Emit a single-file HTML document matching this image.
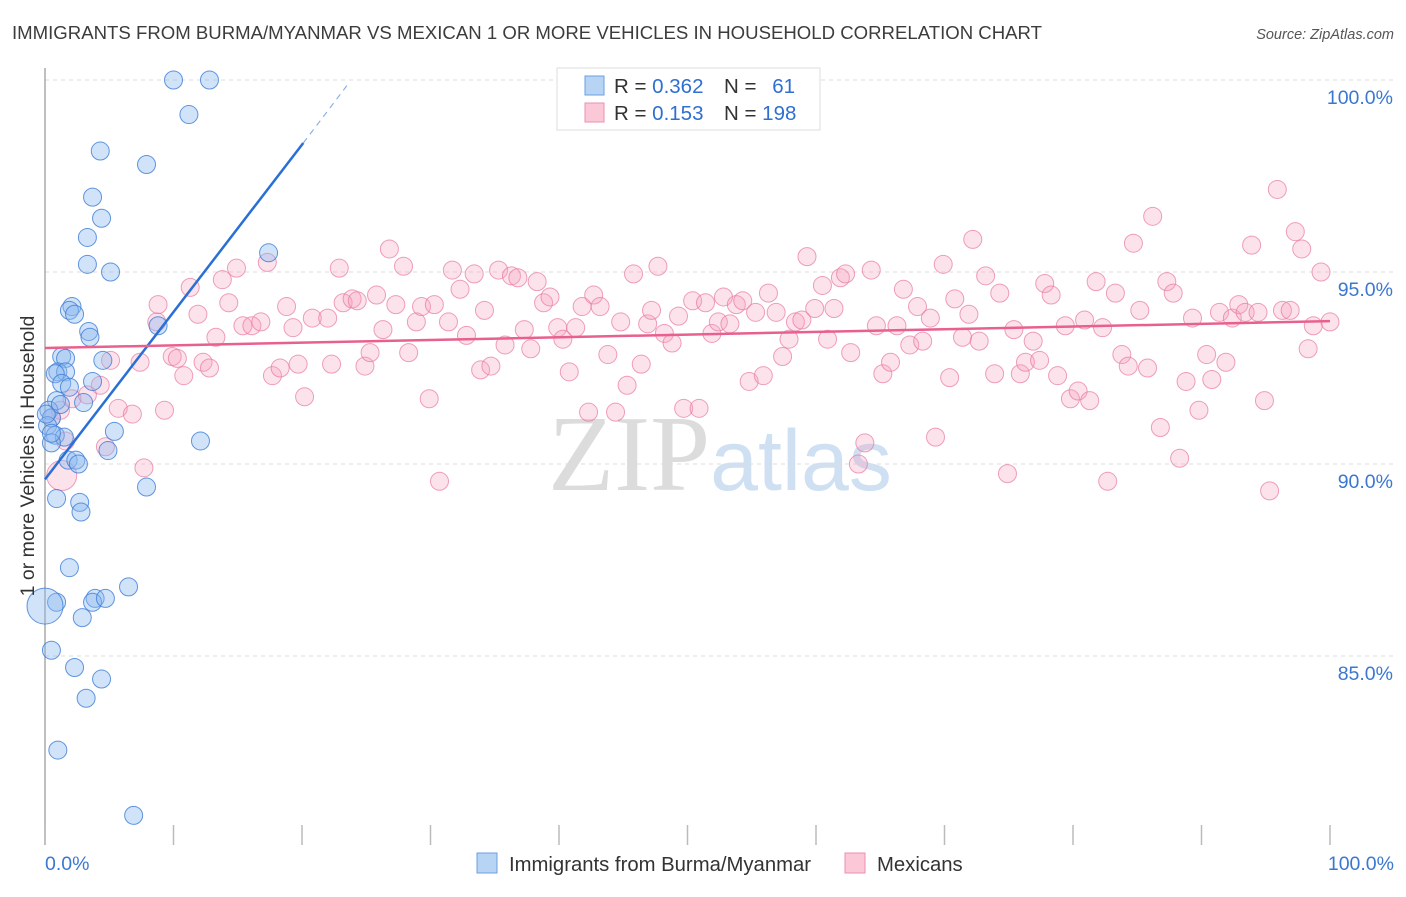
<!DOCTYPE html>
<html><head><meta charset="utf-8">
<style>
body{margin:0;background:#fff;font-family:"Liberation Sans",sans-serif;}
svg text{font-family:"Liberation Sans",sans-serif;}
</style></head>
<body>
<svg id="chart" width="1406" height="892" viewBox="0 0 1406 892" xmlns="http://www.w3.org/2000/svg">
<text x="12" y="39" font-size="18.6" fill="#3c3c3c">IMMIGRANTS FROM BURMA/MYANMAR VS MEXICAN 1 OR MORE VEHICLES IN HOUSEHOLD CORRELATION CHART</text>
<text x="1394" y="39" font-size="14.5" fill="#555" text-anchor="end" font-style="italic">Source: ZipAtlas.com</text>
<text x="720" y="490" font-size="108" text-anchor="middle"><tspan font-family="Liberation Serif" fill="#dcdcdc">ZIP</tspan><tspan fill="#cfe0f3" font-size="86">atlas</tspan></text>
<g id="grid"></g>
<g id="axes"></g>
<g id="pinkpts"></g>
<g id="bluepts"></g>
<g id="trends"></g>
<text transform="translate(34,456) rotate(-90)" font-size="19.5" fill="#333" text-anchor="middle">1 or more Vehicles in Household</text>
<g>
<rect x="557" y="68" width="263" height="62" fill="#fff" stroke="#ddd"/>
<rect x="585" y="76" width="19" height="19" fill="#b8d4f5" stroke="#6a9fe0"/>
<rect x="585" y="103" width="19" height="19" fill="#fbc8d8" stroke="#ec8fb0"/>
<text x="614" y="93" font-size="20.5" fill="#333">R = <tspan fill="#2f6fd0">0.362</tspan></text>
<text x="724" y="93" font-size="20.5" fill="#333">N = </text><text x="795" y="93" font-size="20.5" fill="#2f6fd0" text-anchor="end">61</text>
<text x="614" y="120" font-size="20.5" fill="#333">R = <tspan fill="#2f6fd0"> 0.153</tspan></text>
<text x="724" y="120" font-size="20.5" fill="#333">N = <tspan fill="#2f6fd0">198</tspan></text>
</g>
<g>
<rect x="477" y="853" width="20" height="20" fill="#b8d4f5" stroke="#6a9fe0"/>
<text x="509" y="871" font-size="20.3" fill="#333">Immigrants from Burma/Myanmar</text></g>
<g>
<rect x="845" y="853" width="20" height="20" fill="#fbc8d8" stroke="#ec8fb0"/>
<text x="877" y="871" font-size="20.3" fill="#333">Mexicans</text></g>
</svg>
<script>
const yTicks=[85,90,95,100];
const yTickLabels=["85.0%","90.0%","95.0%","100.0%"];
const xTickLabels=["0.0%","100.0%"];
const blueX=[10.0,12.8,11.2,4.3,7.9,3.7,4.4,3.3,3.3,5.1,17.4,2.1,1.9,2.3,3.4,3.5,8.8,1.3,1.6,4.5,1.0,1.6,0.8,1.3,1.9,3.7,0.9,3.0,0.3,0.5,0.2,0.8,1.5,0.5,5.4,12.1,4.9,1.8,2.4,2.6,0.9,2.7,2.8,7.9,1.9,0.9,0,3.9,3.7,4.7,6.5,2.9,0.5,2.3,4.4,3.2,1.0,6.9,0.1,1.2,0.5];
const blueY=[100.0,100.0,99.1,98.15,97.8,96.95,96.4,95.9,95.2,95.0,95.5,94.1,94.0,93.9,93.45,93.3,93.6,92.8,92.75,92.7,92.4,92.4,92.35,92.1,92.0,92.15,91.65,91.6,91.4,91.2,91.0,90.75,90.7,90.55,90.85,90.6,90.35,90.1,90.1,90.0,89.1,89.0,88.75,89.4,87.3,86.4,86.3,86.5,86.4,86.5,86.8,86.0,85.15,84.7,84.4,83.9,82.55,80.85,91.3,91.55,90.8];
const blueBig=[46];
const pinkX=[0.5,1.2,1.6,1.3,2.1,3.3,4.3,4.7,5.1,5.7,6.8,7.7,7.4,8.7,8.8,9.3,9.9,10.3,10.8,11.3,11.9,12.3,12.8,13.3,13.8,14.3,14.9,15.4,16.1,16.8,17.3,17.7,18.3,18.8,19.3,19.7,20.2,20.8,22.0,22.3,22.9,23.2,23.9,24.3,24.9,25.3,25.8,26.3,26.8,27.3,27.9,28.3,28.9,29.3,29.9,30.3,30.7,31.4,31.7,32.3,32.8,33.4,33.9,34.2,34.7,35.3,35.8,36.3,36.8,37.3,37.8,38.3,38.8,39.3,39.9,40.3,40.8,41.3,41.8,42.3,42.7,43.2,43.8,44.4,44.8,45.3,45.8,46.4,46.9,47.2,47.7,48.2,48.8,49.3,49.7,50.4,50.9,51.4,51.9,52.4,52.8,53.3,53.8,54.3,54.8,55.3,55.9,56.3,56.9,57.4,57.9,58.4,58.9,59.3,59.9,60.5,60.9,61.4,61.9,62.3,62.7,63.3,63.8,64.3,64.7,65.2,65.8,66.3,66.8,67.3,67.9,68.3,68.9,69.3,69.9,70.4,70.8,71.4,71.9,72.2,72.7,73.2,73.9,74.3,74.9,75.4,75.9,76.3,76.9,77.4,77.8,78.3,78.8,79.4,79.8,80.4,80.9,81.3,81.8,82.3,82.7,83.3,83.8,84.3,84.7,85.2,85.8,86.2,86.8,87.3,87.8,88.3,88.8,89.3,89.8,90.4,90.8,91.4,91.9,92.4,92.9,93.4,93.9,94.4,94.9,95.3,95.9,96.3,96.9,97.3,97.8,98.3,98.7,99.3,100];
const pinkY=[91.2,91.4,90.6,89.7,91.7,91.8,92.05,90.45,92.7,91.45,91.3,89.9,92.65,93.7,94.15,91.4,92.8,92.75,92.3,94.6,93.9,92.65,92.5,93.3,94.8,94.2,95.1,93.6,93.6,93.7,95.25,92.3,92.5,94.1,93.55,92.6,91.75,93.8,93.8,92.6,95.1,94.2,94.3,94.25,92.55,92.9,94.4,93.5,95.6,94.15,95.15,92.9,93.7,94.1,91.7,94.15,89.55,93.7,95.05,94.55,93.35,94.95,92.45,94.0,92.55,95.05,93.1,94.9,94.85,93.5,93.0,94.75,94.2,94.35,93.55,93.25,92.4,93.55,94.1,91.35,94.4,94.1,92.85,91.35,93.7,92.05,94.95,92.6,93.65,94.0,95.15,93.4,93.15,93.85,91.45,94.25,91.45,94.2,93.4,93.7,94.35,93.65,94.15,94.25,92.15,93.95,92.3,94.45,93.95,92.8,93.25,93.7,93.75,95.4,94.05,94.65,93.25,94.05,94.85,94.95,92.9,90.0,90.55,95.05,93.6,92.35,92.65,93.6,94.55,93.1,94.1,93.2,93.8,90.7,95.2,92.25,94.3,93.3,93.9,95.85,93.2,94.9,92.35,94.45,89.75,93.5,92.35,92.65,93.2,92.7,94.7,94.4,92.3,93.6,91.7,91.9,93.75,91.65,94.75,93.55,89.55,94.45,92.85,92.55,95.75,94.0,92.5,96.45,90.95,94.75,94.45,90.15,92.15,93.8,91.4,92.85,92.2,93.95,92.65,93.8,94.15,93.95,95.7,93.95,91.65,89.3,97.15,94.0,94.0,96.05,95.6,93.0,93.6,95.0,93.7];
const pinkBig=[3];
const blueTrend=[[0,89.6],[20.1,98.36]];
const blueTrendDash=[[20.1,98.36],[23.6,99.9]];
const pinkTrend=[[0,93.02],[100,93.72]];

const NS="http://www.w3.org/2000/svg";
const X0=45,X1=1330,YTOP=80,PX5=192;
const sx=v=>X0+v*(X1-X0)/100;
const sy=v=>YTOP+(100-v)*PX5/5;
function mk(tag,attrs,parent){const e=document.createElementNS(NS,tag);for(const k in attrs)e.setAttribute(k,attrs[k]);parent.appendChild(e);return e;}
const grid=document.getElementById('grid'),axes=document.getElementById('axes');
yTicks.forEach((t,i)=>{
  const l=mk('line',{x1:X0,x2:1394,y1:sy(t),y2:sy(t),stroke:'#ddd','stroke-dasharray':'4,4'},grid);
  
  
  const tx=mk('text',{x:1393,y:sy(t)+24,'font-size':19.5,fill:'#3a78d0','text-anchor':'end'},axes);
  tx.textContent=yTickLabels[i];
  
  
});
const ya=mk('line',{x1:X0,x2:X0,y1:68,y2:845,stroke:'#aaa','stroke-width':1.5},axes);


for(let i=0;i<=10;i++){
  const tk=mk('line',{x1:sx(i*10),x2:sx(i*10),y1:825,y2:845,stroke:'#bbb','stroke-width':1.5},axes);
  
  
}
const xl0=mk('text',{x:45,y:870,'font-size':19.5,fill:'#3a78d0'},axes);xl0.textContent=xTickLabels[0];


const xl1=mk('text',{x:1394,y:870,'font-size':19.5,fill:'#3a78d0','text-anchor':'end'},axes);xl1.textContent=xTickLabels[1];



const pg=document.getElementById('pinkpts');
pinkX.forEach((x,i)=>{
  const c=mk('circle',{cx:sx(x),cy:sy(pinkY[i]),r:pinkBig.includes(i)?15:9,fill:'rgba(246,160,190,0.3)',stroke:'rgba(232,120,160,0.7)','stroke-width':1},pg);
  
  
});
const bg=document.getElementById('bluepts');
blueX.forEach((x,i)=>{
  const c=mk('circle',{cx:sx(x),cy:sy(blueY[i]),r:blueBig.includes(i)?18:9,fill:'rgba(140,185,240,0.4)',stroke:'rgba(60,125,215,0.8)','stroke-width':1},bg);
  
  
});
const tg=document.getElementById('trends');
const b=mk('line',{x1:sx(blueTrend[0][0]),y1:sy(blueTrend[0][1]),x2:sx(blueTrend[1][0]),y2:sy(blueTrend[1][1]),stroke:'#2a6fd6','stroke-width':2.5},tg);


const bd=mk('line',{x1:sx(blueTrendDash[0][0]),y1:sy(blueTrendDash[0][1]),x2:sx(blueTrendDash[1][0]),y2:sy(blueTrendDash[1][1]),stroke:'#8ab0e6','stroke-width':1.2,'stroke-dasharray':'6,5'},tg);


const p=mk('line',{x1:sx(pinkTrend[0][0]),y1:sy(pinkTrend[0][1]),x2:sx(pinkTrend[1][0]),y2:sy(pinkTrend[1][1]),stroke:'#e8608f','stroke-width':2.5},tg);


</script>
</body></html>
